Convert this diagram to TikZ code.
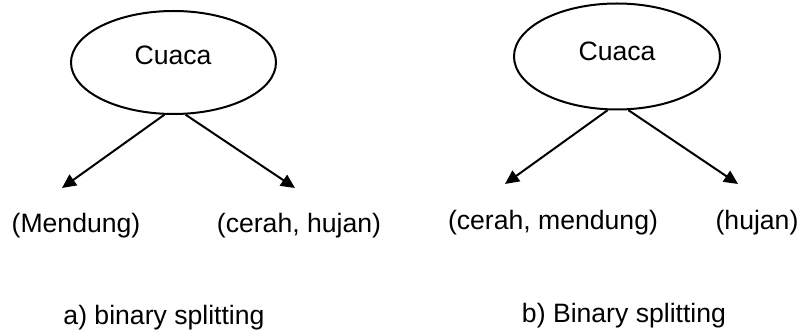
\documentclass[tikz,border=0pt]{standalone}
\usepackage{fontspec}
\setmainfont{Liberation Sans}
\usetikzlibrary{shapes.geometric,arrows.meta}
\begin{document}
\begin{tikzpicture}[x=1pt,y=-1pt,
  every node/.style={font=\fontsize{26.6}{32}\selectfont, inner sep=0pt},
  oval/.style={ellipse, draw, line width=2pt, inner sep=0pt},
  lbl/.style={anchor=base},
  conn/.style={line width=2pt, -{Triangle[length=14pt,width=13pt]}}]
\useasboundingbox (0,0) rectangle (806,336);
% left tree
\node[oval, minimum width=205pt, minimum height=103pt] (e1) at (173.5,62.5) {};
\node[lbl] (t1) at (173,65) {Cuaca};
\coordinate (a1) at (62,188);
\coordinate (a2) at (295,188);
\draw[conn] (e1.260.8) -- (a1);
\draw[conn] (e1.283.4) -- (a2);
\node[lbl] (l1) at (76,233) {(Mendung)};
\node[lbl] (l2) at (299,233) {(cerah, hujan)};
\node[lbl] (c1) at (164,325) {a) binary splitting};
% right tree
\node[oval, minimum width=206pt, minimum height=106pt] (e2) at (617,56.5) {};
\node[lbl] (t2) at (617,61) {Cuaca};
\coordinate (b1) at (505,184);
\coordinate (b2) at (738,184);
\draw[conn] (e2.260.6) -- (b1);
\draw[conn] (e2.282.5) -- (b2);
\node[lbl] (r1) at (553,230) {(cerah, mendung)};
\node[lbl] (r2) at (757,230) {(hujan)};
\node[lbl] (c2) at (624,323) {b) Binary splitting};
\end{tikzpicture}
\end{document}
